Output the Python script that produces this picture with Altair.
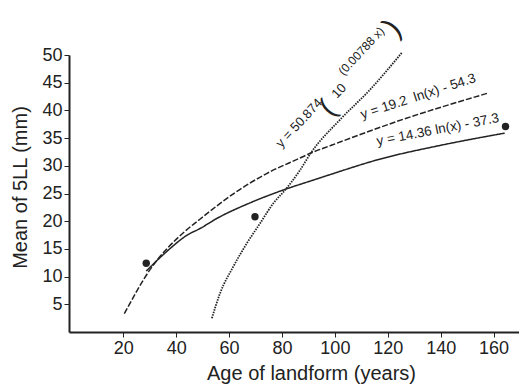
import altair as alt
import pandas as pd

# --- data ---
solid_x = [28.7, 36.6, 44.2, 49.1, 55.4, 67.9, 81.5, 91.7, 98.1, 117.0, 140.0, 164.2]
solid_y = [11.0, 14.6, 17.5, 18.7, 20.5, 23.3, 25.8, 27.4, 28.4, 31.2, 33.7, 35.9]

dashed_x = [20.4, 30.2, 43.4, 49.1, 61.5, 74.2, 86.8, 90.9, 98.1, 123.4, 157.7]
dashed_y = [3.3, 11.3, 18.2, 20.4, 24.9, 28.6, 31.4, 32.3, 33.6, 38.0, 43.1]

dotted_x = [53.5, 56.6, 61.6, 66.7, 71.7, 76.7, 81.5, 86.8, 90.9, 101.9, 113.2, 125.3]
dotted_y = [2.5, 7.0, 11.8, 16.0, 19.6, 23.2, 25.8, 29.2, 32.3, 38.3, 43.7, 50.4]

point_x = [28.7, 69.8, 164.5]
point_y = [12.4, 20.8, 37.1]

x_ticks = [20, 40, 60, 80, 100, 120, 140, 160]
y_ticks = [5, 10, 15, 20, 25, 30, 35, 40, 45, 50]

label_text = ["y = 14.36 ln(x) - 37.3", "y = 19.2\u00a0 ln(x) - 54.3"]
label_x = [138.9, 131.5]
label_y = [36.5, 42.5]
label_angle = [349, 342]

exp_text = ["y = 50.874", "(", "10", "(0.00788 x)", ")"]
exp_x = [86.5, 97.4, 101.6, 110.0, 121.8]
exp_y = [37.7, 40.3, 43.5, 50.7, 54.9]
exp_size = [13, 28, 13, 12, 30]

FONT = "Liberation Sans"
INK = "#222222"

xs = alt.Scale(domain=[-0.5, 169.6], nice=False, zero=False)
ys = alt.Scale(domain=[0, 50], nice=False, zero=False)

xaxis = alt.Axis(values=x_ticks, title="Age of landform (years)", titleX=242, titleY=47,
                 titleBaseline="alphabetic", titleAlign="center", labelPadding=2,
                 labelOverlap=False)
yaxis = alt.Axis(values=y_ticks, title="Mean of 5LL (mm)", titleX=-49, titleY=132,
                 titleAngle=270, titleAlign="center", titleBaseline="middle", labelPadding=2,
                 labelOverlap=False)

def line(xv, yv, dash, w):
    df = pd.DataFrame({"x": xv, "y": yv})
    return alt.Chart(df).mark_line(color=INK, strokeWidth=w, strokeDash=dash,
                                   interpolate="monotone").encode(
        x=alt.X("x:Q", scale=xs, axis=xaxis),
        y=alt.Y("y:Q", scale=ys, axis=yaxis),
    )

solid = line(solid_x, solid_y, [1, 0], 1.5)
dashed = line(dashed_x, dashed_y, [6, 2], 1.5)
dotted = line(dotted_x, dotted_y, [1.5, 1.1], 1.8)

points = alt.Chart(pd.DataFrame({"x": point_x, "y": point_y})).mark_circle(
    color=INK, opacity=1, size=55).encode(
    x=alt.X("x:Q", scale=xs, axis=xaxis), y=alt.Y("y:Q", scale=ys, axis=yaxis))

lab_df = pd.DataFrame({"t": label_text, "x": label_x, "y": label_y, "a": label_angle})
labels = alt.Chart(lab_df).mark_text(font=FONT, fontSize=13.5, color=INK,
                                     align="center", baseline="middle").encode(
    x=alt.X("x:Q", scale=xs, axis=xaxis), y=alt.Y("y:Q", scale=ys, axis=yaxis), text="t:N",
    angle=alt.Angle("a:Q", scale=None))

exp_df = pd.DataFrame({"t": exp_text, "x": exp_x, "y": exp_y, "s": exp_size})
exp_labels = alt.Chart(exp_df).mark_text(font=FONT, color=INK, angle=313,
                                         align="center", baseline="middle").encode(
    x=alt.X("x:Q", scale=xs, axis=xaxis), y=alt.Y("y:Q", scale=ys, axis=yaxis), text="t:N",
    size=alt.Size("s:Q", scale=None))

chart = alt.layer(solid, dashed, dotted, points, labels, exp_labels).properties(
    width=450, height=277,
    autosize=alt.AutoSizeParams(type="none"),
    padding={"left": 61, "top": 47, "right": 0, "bottom": 54},
).configure_view(stroke=None).configure_axis(
    grid=False, labelFont=FONT, titleFont=FONT, labelFontSize=18, titleFontSize=20,
    titleFontWeight="normal", labelColor=INK, titleColor=INK, labelOverlap=False,
    domainColor=INK, domainWidth=2, tickColor=INK, tickWidth=1, tickSize=5,
)

chart.save("out.html", embed_options={"renderer": "svg", "actions": False})
